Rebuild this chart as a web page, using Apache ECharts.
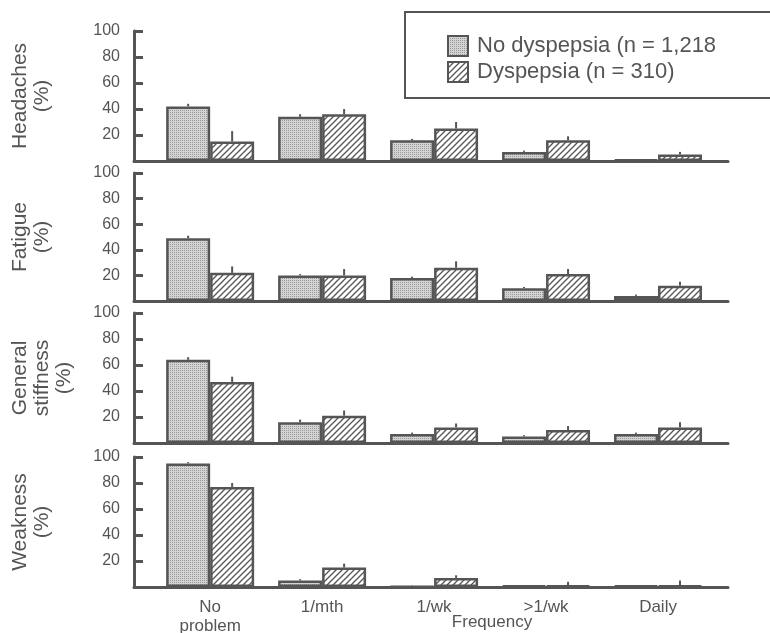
<!DOCTYPE html>
<html>
<head>
<meta charset="utf-8">
<script src="https://cdn.jsdelivr.net/npm/echarts@6/dist/echarts.min.js"></script>
<style>
  html, body { margin: 0; padding: 0; background: #fff; }
  #main { width: 770px; height: 633px; }
</style>
</head>
<body>
<div id="main"></div>
<script>
  // categories / panels
  const categories = ['No\nproblem', '1/mth', '1/wk', '>1/wk', 'Daily'];
  const panelNames = ['Headaches\n(%)', 'Fatigue\n(%)', 'General\nstiffness\n(%)', 'Weakness\n(%)'];
  const seriesNames = ['No dyspepsia (n = 1,218', 'Dyspepsia (n = 310)'];

  // bar values (%)
  const headachesNo = [42, 34, 16, 7, 1];
  const headachesDys = [15, 36, 25, 16, 5];
  const fatigueNo = [49, 20, 18, 10, 4];
  const fatigueDys = [22, 20, 26, 21, 12];
  const stiffnessNo = [64, 16, 7, 5, 7];
  const stiffnessDys = [47, 21, 12, 10, 12];
  const weaknessNo = [95, 5, 0.5, 1, 1];
  const weaknessDys = [77, 15, 7, 1, 1];

  // upper end of error bars
  const headachesNoHi = [44, 36, 17, 8, 1.5];
  const headachesDysHi = [23, 40, 30, 19, 7];
  const fatigueNoHi = [51, 21, 19, 11, 5];
  const fatigueDysHi = [27, 25, 31, 25, 15];
  const stiffnessNoHi = [66, 18, 8, 6, 8];
  const stiffnessDysHi = [51, 25, 15, 13, 16];
  const weaknessNoHi = [96, 6, 1, 1.5, 1.5];
  const weaknessDysHi = [80, 18, 9, 4, 5];

  const yTicks = [0, 20, 40, 60, 80, 100];

  const panelValues = [
    [headachesNo, headachesDys, headachesNoHi, headachesDysHi],
    [fatigueNo, fatigueDys, fatigueNoHi, fatigueDysHi],
    [stiffnessNo, stiffnessDys, stiffnessNoHi, stiffnessDysHi],
    [weaknessNo, weaknessDys, weaknessNoHi, weaknessDysHi]
  ];

  const ink = '#555';
  const gridTops = [31, 173, 313, 457];
  const gridHeights = [130, 128, 130, 130];
  const nameGaps = [81, 81, 59, 81];
  const barW = 44;

  // fill patterns
  function stipple() {
    const c = document.createElement('canvas');
    c.width = 2; c.height = 2;
    const ctx = c.getContext('2d');
    ctx.fillStyle = '#d4d4d4';
    ctx.fillRect(0, 0, 2, 2);
    ctx.fillStyle = '#999';
    ctx.fillRect(0, 0, 1, 1);
    return c;
  }
  function hatch() {
    const c = document.createElement('canvas');
    c.width = 6; c.height = 6;
    const ctx = c.getContext('2d');
    ctx.fillStyle = '#fff';
    ctx.fillRect(0, 0, 6, 6);
    ctx.strokeStyle = ink;
    ctx.lineWidth = 1.3;
    ctx.beginPath();
    ctx.moveTo(-1, 7); ctx.lineTo(7, -1);
    ctx.moveTo(-1, 1); ctx.lineTo(1, -1);
    ctx.moveTo(5, 7); ctx.lineTo(7, 5);
    ctx.stroke();
    return c;
  }
  const fills = [
    { image: stipple(), repeat: 'repeat' },
    { image: hatch(), repeat: 'repeat' }
  ];

  const chart = echarts.init(document.getElementById('main'));

  const grids = [];
  const xAxes = [];
  const yAxes = [];
  const series = [];

  panelValues.forEach(function(vals, p) {
    const last = p === panelValues.length - 1;
    grids.push({
      left: 134, right: 42, top: gridTops[p], height: gridHeights[p],
      containLabel: false, outerBoundsMode: 'none'
    });
    xAxes.push({
      type: 'value',
      gridIndex: p,
      min: -0.68,
      max: 4.625,
      splitLine: { show: false },
      axisTick: { show: false },
      axisLine: { show: true, onZero: true, lineStyle: { color: ink, width: 3 } },
      axisLabel: {
        show: last,
        customValues: [0, 1, 2, 3, 4],
        formatter: function(v) { return categories[Math.round(v)]; },
        color: ink,
        fontSize: 17,
        lineHeight: 19,
        margin: 11,
        fontFamily: 'Liberation Sans, Arial, sans-serif'
      }
    });
    yAxes.push({
      type: 'value',
      gridIndex: p,
      min: 0,
      max: 100,
      interval: 20,
      name: panelNames[p],
      nameLocation: 'middle',
      nameRotate: 90,
      nameGap: nameGaps[p],
      nameTextStyle: {
        color: ink,
        fontSize: 21,
        lineHeight: 22,
        fontFamily: 'Liberation Sans, Arial, sans-serif'
      },
      splitLine: { show: false },
      axisLine: { show: true, onZero: false, lineStyle: { color: ink, width: 3 } },
      axisTick: { show: true, inside: true, length: 9, lineStyle: { color: ink, width: 3 } },
      axisLabel: {
        color: ink,
        fontSize: 16,
        margin: 14,
        fontFamily: 'Liberation Sans, Arial, sans-serif',
        formatter: function(v) { return v === yTicks[0] ? '' : v; }
      }
    });

    [0, 1].forEach(function(s) {
      series.push({
        name: seriesNames[s],
        type: 'bar',
        xAxisIndex: p,
        yAxisIndex: p,
        barWidth: barW,
        barGap: '0%',
        data: vals[s].map(function(v, i) { return [i, v]; }),
        itemStyle: { color: fills[s], borderColor: ink, borderWidth: 2.5 },
        emphasis: { disabled: true },
        z: 2
      });
      // error bars (upper only)
      series.push({
        type: 'custom',
        xAxisIndex: p,
        yAxisIndex: p,
        data: vals[s].map(function(v, i) { return [i, v, vals[s + 2][i]]; }),
        renderItem: function(params, api) {
          const shift = (s === 0 ? -1 : 1) * barW / 2;
          const a = api.coord([api.value(0), api.value(1)]);
          const b = api.coord([api.value(0), api.value(2)]);
          return {
            type: 'line',
            shape: { x1: a[0] + shift, y1: a[1], x2: b[0] + shift, y2: b[1] },
            style: { stroke: ink, lineWidth: 2 }
          };
        },
        silent: true,
        z: 3
      });
    });
  });

  const options = {
    backgroundColor: '#fff',
    animation: false,
    title: {
      text: 'Frequency',
      left: 487,
      top: 609,
      textAlign: 'center',
      textStyle: {
        color: ink,
        fontSize: 17,
        fontWeight: 'normal',
        fontFamily: 'Liberation Sans, Arial, sans-serif'
      }
    },
    legend: {
      data: seriesNames,
      orient: 'vertical',
      left: 405,
      top: 12,
      padding: [23, 90, 15, 42],
      itemWidth: 20,
      itemHeight: 20,
      itemGap: 4,
      icon: 'rect',
      borderColor: ink,
      borderWidth: 2,
      backgroundColor: '#fff',
      selectedMode: false,
      textStyle: {
        color: ink,
        fontSize: 22,
        padding: [0, 0, 0, 4],
        fontFamily: 'Liberation Sans, Arial, sans-serif'
      }
    },
    grid: grids,
    xAxis: xAxes,
    yAxis: yAxes,
    series: series
  };
  chart.setOption(options);
</script>
</body>
</html>
